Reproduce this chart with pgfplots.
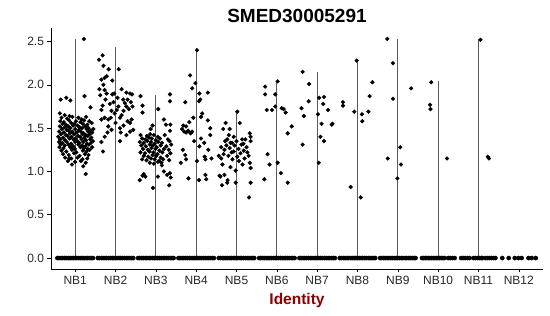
\documentclass[border=0pt]{standalone}
\usepackage{fontspec}
\setmainfont{Liberation Sans}
\usepackage{pgfplots}
\pgfplotsset{compat=1.18}
\definecolor{vline}{HTML}{5A5A5A}
\definecolor{labred}{HTML}{8B0000}
\begin{document}
\begin{tikzpicture}
\useasboundingbox (-51pt,-47pt) rectangle (499pt,269pt);
\begin{axis}[at={(0pt,0pt)}, anchor=south west, scale only axis,
  width=492pt, height=241pt,
  xmin=0.4, xmax=12.6, ymin=-0.1265, ymax=2.6565,
  axis x line*=bottom, axis y line*=left,
  axis line style={black, line width=0.8pt},
  tick style={black, line width=0.6pt},
  tick align=outside, major tick length=3.5pt,
  xtick={1,...,12},
  xticklabels={NB1,NB2,NB3,NB4,NB5,NB6,NB7,NB8,NB9,NB10,NB11,NB12},
  ytick={0,0.5,1,1.5,2,2.5},
  /pgf/number format/assume math mode=true,
  yticklabel style={/pgf/number format/.cd, fixed, fixed zerofill, precision=1},
  ticklabel style={font=\fontsize{12}{14}\selectfont, text=black!85},
  title={SMED30005291},
  title style={at={(0.5,1)}, anchor=base, yshift=0pt, font=\fontsize{19}{22}\selectfont\bfseries},
  xlabel={Identity},
  xlabel style={at={(0.5,0)}, anchor=base, yshift=-35pt, font=\fontsize{15.5}{18}\selectfont\bfseries, text=labred},
  clip=false,
]
% violin outlines (thin: nearly all values are zero)
\addplot[vline, line width=0.9pt] coordinates {(1,0) (1,2.53)};
\addplot[vline, line width=0.9pt] coordinates {(2,0) (2,2.44)};
\addplot[vline, line width=0.9pt] coordinates {(3,0) (3,1.886)};
\addplot[vline, line width=0.9pt] coordinates {(4,0) (4,2.42)};
\addplot[vline, line width=0.9pt] coordinates {(5,0) (5,1.70)};
\addplot[vline, line width=0.9pt] coordinates {(6,0) (6,2.047)};
\addplot[vline, line width=0.9pt] coordinates {(7,0) (7,2.148)};
\addplot[vline, line width=0.9pt] coordinates {(8,0) (8,2.28)};
\addplot[vline, line width=0.9pt] coordinates {(9,0) (9,2.53)};
\addplot[vline, line width=0.9pt] coordinates {(10,0) (10,2.04)};
\addplot[vline, line width=0.9pt] coordinates {(11,0) (11,2.53)};
% zero-valued cells
\addplot[only marks, mark=*, mark size=2.1pt, black] table {
x y
0.56 0
0.60 0
0.65 0
0.69 0
0.74 0
0.78 0
0.83 0
0.87 0
0.92 0
0.96 0
1.00 0
1.04 0
1.09 0
1.13 0
1.18 0
1.22 0
1.27 0
1.31 0
1.36 0
1.40 0
1.44 0
1.56 0
1.60 0
1.65 0
1.69 0
1.74 0
1.78 0
1.83 0
1.87 0
1.92 0
1.96 0
2.00 0
2.04 0
2.09 0
2.13 0
2.18 0
2.22 0
2.27 0
2.31 0
2.36 0
2.40 0
2.44 0
2.56 0
2.60 0
2.65 0
2.69 0
2.74 0
2.78 0
2.83 0
2.87 0
2.92 0
2.96 0
3.00 0
3.04 0
3.09 0
3.13 0
3.18 0
3.22 0
3.27 0
3.31 0
3.36 0
3.40 0
3.44 0
3.56 0
3.60 0
3.65 0
3.69 0
3.74 0
3.78 0
3.83 0
3.87 0
3.92 0
3.96 0
4.00 0
4.04 0
4.09 0
4.13 0
4.18 0
4.22 0
4.27 0
4.31 0
4.36 0
4.40 0
4.44 0
4.56 0
4.60 0
4.65 0
4.69 0
4.74 0
4.78 0
4.83 0
4.87 0
4.92 0
4.96 0
5.00 0
5.04 0
5.09 0
5.13 0
5.18 0
5.22 0
5.27 0
5.31 0
5.36 0
5.40 0
5.44 0
5.56 0
5.60 0
5.65 0
5.69 0
5.74 0
5.78 0
5.83 0
5.87 0
5.92 0
5.96 0
6.00 0
6.04 0
6.09 0
6.13 0
6.18 0
6.22 0
6.27 0
6.31 0
6.36 0
6.40 0
6.44 0
6.56 0
6.60 0
6.65 0
6.69 0
6.74 0
6.78 0
6.83 0
6.87 0
6.92 0
6.96 0
7.00 0
7.04 0
7.09 0
7.13 0
7.18 0
7.22 0
7.27 0
7.31 0
7.36 0
7.40 0
7.44 0
7.56 0
7.60 0
7.65 0
7.69 0
7.74 0
7.78 0
7.83 0
7.87 0
7.92 0
7.96 0
8.00 0
8.04 0
8.09 0
8.13 0
8.18 0
8.22 0
8.27 0
8.31 0
8.36 0
8.40 0
8.44 0
8.56 0
8.60 0
8.65 0
8.69 0
8.74 0
8.78 0
8.83 0
8.87 0
8.92 0
8.96 0
9.00 0
9.04 0
9.09 0
9.13 0
9.18 0
9.22 0
9.27 0
9.31 0
9.36 0
9.40 0
9.44 0
9.60 0
9.64 0
9.68 0
9.72 0
9.76 0
9.80 0
9.84 0
9.88 0
9.92 0
9.96 0
10.00 0
10.04 0
10.08 0
10.12 0
10.16 0
10.25 0
10.30 0
10.36 0
10.41 0
10.57 0
10.62 0
10.67 0
10.73 0
10.78 0
10.88 0
10.93 0
10.98 0
11.03 0
11.07 0
11.10 0
11.17 0
11.22 0
11.27 0
11.32 0
11.37 0
11.42 0
11.59 0
11.75 0
11.90 0
11.99 0
12.07 0
12.24 0
12.32 0
12.42 0
};
% expressing cells
\addplot[only marks, mark=*, mark size=1.9pt, black] table {
x y
1.215 2.53
0.64 1.83
0.78 1.85
0.88 1.82
1.23 1.87
1.38 1.74
0.62 1.67
0.74 1.65
0.86 1.64
0.66 1.62
0.80 1.61
0.93 1.63
1.08 1.62
1.16 1.60
1.27 1.63
0.63 1.58
0.72 1.57
0.85 1.59
1.02 1.58
1.13 1.57
1.22 1.59
1.35 1.58
0.69 1.55
0.77 1.54
0.90 1.56
0.98 1.55
1.06 1.53
1.19 1.55
1.30 1.54
1.41 1.56
0.62 1.52
0.74 1.51
0.83 1.52
0.95 1.53
1.11 1.51
1.24 1.52
1.33 1.50
0.67 1.49
0.79 1.48
0.88 1.50
1.00 1.49
1.09 1.48
1.17 1.50
1.28 1.49
1.38 1.47
1.45 1.49
0.60 1.46
0.72 1.45
0.84 1.47
0.93 1.46
1.04 1.45
1.14 1.46
1.21 1.44
1.32 1.46
1.42 1.45
0.65 1.43
0.77 1.42
0.87 1.44
0.97 1.43
1.07 1.41
1.18 1.43
1.26 1.42
1.36 1.43
0.58 1.40
0.70 1.39
0.81 1.41
0.91 1.40
1.01 1.38
1.12 1.40
1.23 1.39
1.31 1.41
1.40 1.39
0.63 1.37
0.75 1.36
0.86 1.38
0.96 1.37
1.05 1.35
1.16 1.37
1.27 1.36
1.37 1.37
1.44 1.35
0.60 1.34
0.68 1.33
0.79 1.34
0.90 1.32
1.00 1.34
1.10 1.33
1.20 1.34
1.29 1.32
1.39 1.33
0.64 1.31
0.74 1.30
0.84 1.31
0.95 1.29
1.08 1.31
1.17 1.30
1.25 1.29
1.34 1.31
0.61 1.28
0.71 1.27
0.88 1.28
0.99 1.26
1.13 1.28
1.22 1.27
1.31 1.26
1.42 1.28
0.66 1.24
0.78 1.23
0.92 1.25
1.03 1.22
1.19 1.24
1.28 1.23
1.36 1.25
0.70 1.20
0.84 1.19
0.97 1.21
1.11 1.18
1.24 1.20
1.33 1.19
0.75 1.16
0.90 1.15
1.06 1.16
1.18 1.14
1.30 1.15
0.82 1.12
1.00 1.11
1.14 1.12
1.26 1.10
0.92 1.08
1.26 0.97
1.20 1.06
0.85 1.15
1.59 2.29
1.68 2.34
1.83 2.18
2.08 2.18
1.65 2.06
1.73 2.08
1.78 2.10
1.70 2.00
1.73 1.94
1.78 1.90
1.97 1.90
1.92 1.89
2.27 1.91
2.36 1.90
2.41 1.89
2.19 1.83
2.23 1.79
2.27 1.75
2.07 1.75
2.03 1.71
1.98 1.67
1.65 1.71
1.73 1.62
1.82 1.60
1.65 1.60
2.15 1.65
2.11 1.62
2.40 1.60
2.36 1.56
1.82 1.52
1.90 1.48
2.11 1.50
2.27 1.42
1.73 1.40
1.65 1.34
1.69 1.23
2.11 1.35
2.44 1.48
2.36 1.46
1.62 1.88
1.75 1.83
1.86 1.78
1.95 1.80
2.05 1.85
2.30 1.83
2.33 1.72
2.20 1.70
1.60 1.95
1.68 1.76
1.90 1.70
2.00 1.56
1.80 1.45
2.20 1.53
2.30 1.58
1.88 1.62
2.42 1.75
2.15 1.95
1.92 2.05
1.70 2.22
2.13 1.45
2.38 1.80
2.62 1.87
2.67 1.76
2.67 1.68
3.06 1.72
3.35 1.89
3.35 1.81
3.20 1.60
3.25 1.54
3.36 1.54
3.35 1.47
2.92 1.53
2.87 1.49
2.62 1.42
2.78 1.41
2.86 1.43
2.95 1.42
3.05 1.40
3.22 1.42
2.66 1.38
2.74 1.37
2.83 1.39
2.90 1.38
3.00 1.36
3.10 1.38
3.30 1.37
2.60 1.34
2.70 1.33
2.79 1.35
2.88 1.34
2.97 1.32
3.06 1.34
3.15 1.33
3.34 1.35
2.64 1.30
2.75 1.29
2.85 1.31
2.93 1.30
3.02 1.28
3.12 1.30
3.26 1.29
3.38 1.31
2.68 1.26
2.80 1.25
2.89 1.27
2.99 1.26
3.09 1.24
3.20 1.26
3.32 1.25
2.62 1.22
2.73 1.21
2.84 1.23
2.94 1.22
3.04 1.20
3.16 1.22
3.36 1.21
2.70 1.18
2.81 1.17
2.92 1.19
3.01 1.18
3.12 1.16
3.28 1.18
2.66 1.14
2.77 1.13
2.88 1.15
2.97 1.14
3.08 1.12
3.18 1.14
3.33 1.13
2.85 1.10
2.95 1.09
3.05 1.11
3.14 1.10
2.60 0.90
2.67 0.95
2.70 0.97
2.74 0.94
2.93 0.81
3.05 0.94
3.33 0.84
3.28 0.96
3.35 0.98
3.37 0.93
3.15 1.07
3.20 1.00
3.85 2.11
3.90 1.96
3.98 2.02
4.08 1.90
4.10 1.83
4.07 1.81
4.29 1.91
3.73 1.80
4.15 1.67
4.12 1.63
4.29 1.59
4.35 1.50
3.93 1.62
3.83 1.57
3.75 1.52
3.68 1.53
3.65 1.49
3.70 1.46
3.75 1.45
3.80 1.47
3.86 1.44
3.90 1.46
4.08 1.29
3.67 1.25
3.73 1.19
3.75 1.14
4.21 1.17
4.23 1.14
3.81 0.92
4.07 0.90
4.23 0.96
4.25 0.91
4.12 1.38
4.20 1.33
4.30 1.25
4.35 1.42
3.95 1.35
4.02 1.12
4.38 1.15
3.62 1.10
4.02 2.40
5.02 1.69
4.73 1.56
5.08 1.56
4.67 1.49
4.83 1.49
4.81 1.42
4.77 1.37
4.93 1.40
4.89 1.33
5.33 1.44
5.35 1.40
5.35 1.35
5.14 1.37
5.22 1.37
5.17 1.32
4.93 1.23
5.02 1.17
5.06 1.12
5.33 1.10
5.35 1.04
4.60 0.94
4.64 0.84
4.77 0.87
4.78 0.90
4.98 0.87
5.35 0.87
5.31 0.70
4.56 1.18
4.62 1.15
4.98 1.01
4.62 1.28
4.70 1.25
4.75 1.30
4.83 1.27
4.88 1.22
4.95 1.30
5.05 1.26
5.10 1.21
5.18 1.24
5.25 1.28
5.30 1.18
4.68 1.20
4.80 1.18
4.90 1.14
5.00 1.35
5.12 1.31
5.20 1.15
4.72 1.35
4.85 1.33
5.27 1.22
4.65 1.08
4.85 1.05
5.15 1.08
4.58 0.95
4.70 0.96
6.02 2.04
5.71 1.98
5.71 1.89
5.96 1.89
5.96 1.75
5.75 1.71
5.88 1.71
6.12 1.73
6.17 1.72
6.22 1.68
6.37 1.52
6.27 1.44
5.77 1.20
5.82 1.08
6.02 1.10
6.10 0.98
5.69 0.91
6.27 0.87
6.64 2.15
6.80 2.01
6.61 1.73
6.67 1.64
6.79 1.81
7.05 1.85
7.17 1.86
7.15 1.78
7.27 1.71
7.02 1.66
7.11 1.55
7.36 1.54
7.38 1.55
7.08 1.40
7.17 1.35
6.64 1.31
7.04 1.10
7.64 1.80
7.64 1.76
7.92 1.69
8.11 1.66
8.12 1.58
8.27 1.69
8.30 1.87
8.37 2.03
7.83 0.82
8.08 0.70
7.98 2.28
8.74 2.53
8.88 2.25
8.88 1.84
8.75 1.15
9.06 1.28
9.08 1.08
8.99 0.92
9.33 1.96
9.83 2.03
9.80 1.77
9.81 1.72
10.22 1.15
11.05 2.52
11.23 1.17
11.26 1.15
};
\end{axis}
\end{tikzpicture}
\end{document}
